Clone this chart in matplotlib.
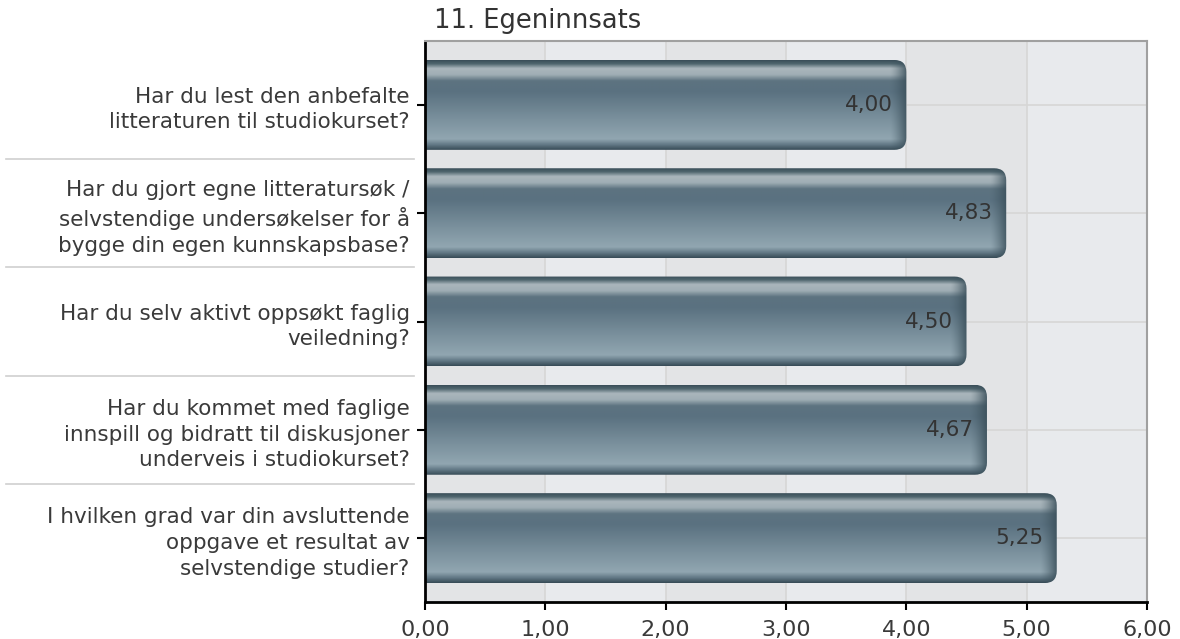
import numpy as np
import matplotlib
matplotlib.use("Agg")
import matplotlib.pyplot as plt
from matplotlib.patches import FancyBboxPatch
from matplotlib.colors import to_rgb

plt.rcParams['font.family'] = ['DejaVu Sans']

title = "11. Egeninnsats"
questions = [
    "Har du lest den anbefalte\nlitteraturen til studiokurset?",
    "Har du gjort egne litteratursøk /\nselvstendige undersøkelser for å\nbygge din egen kunnskapsbase?",
    "Har du selv aktivt oppsøkt faglig\nveiledning?",
    "Har du kommet med faglige\ninnspill og bidratt til diskusjoner\nunderveis i studiokurset?",
    "I hvilken grad var din avsluttende\noppgave et resultat av\nselvstendige studier?",
]
scores = [4.00, 4.83, 4.50, 4.67, 5.25]
xticks = [0, 1, 2, 3, 4, 5, 6]

fig = plt.figure(figsize=(11.8, 6.39), dpi=100)
ax = fig.add_axes([425 / 1180, 1 - 602 / 639, 722 / 1180, 561 / 639])

bar_h = 0.83
ax.set_xlim(0, 6)
ax.set_ylim(4.59, -0.59)

# alternating background bands
band_cols = ["#e3e4e6", "#e8eaed"]
for i in range(6):
    ax.axvspan(i, i + 1, color=band_cols[i % 2], zorder=0, lw=0)
for x in xticks[1:-1]:
    ax.axvline(x, color="#d6d6d6", lw=1.2, zorder=0.5)
for y in range(len(scores)):
    ax.axhline(y, color="#d6d6d6", lw=1.2, zorder=0.5)

# vertical colour profile of the bars (top -> bottom)
stops = [0.0, 0.04, 0.09, 0.16, 0.23, 0.35, 0.70, 0.88, 0.95, 1.0]
cols = ["#3a4e59", "#50666f", "#aab6bc", "#a0aeb5", "#5d7380", "#5a7180",
        "#7f95a1", "#91a6b1", "#5d7380", "#384c57"]
rgb = np.array([to_rgb(c) for c in cols])
prof_t = np.linspace(0, 1, 150)
profile = np.stack([np.interp(prof_t, stops, rgb[:, k]) for k in range(3)], axis=1)
edge = np.array(to_rgb("#3a4f5a"))

for i, v in enumerate(scores):
    xs = np.linspace(-0.2, v, 700)
    dark = np.clip((xs - (v - 0.14)) / 0.14, 0, 1) ** 1.4 * 0.85
    img = profile[:, None, :] * (1 - dark[None, :, None]) + edge[None, None, :] * dark[None, :, None]
    patch = FancyBboxPatch((-0.2, i - bar_h / 2), v + 0.2, bar_h,
                           boxstyle="round,pad=0,rounding_size=0.1",
                           mutation_aspect=1.11, fc="none", ec="none",
                           transform=ax.transData)
    ax.add_patch(patch)
    im = ax.imshow(img, extent=(-0.2, v, i + bar_h / 2, i - bar_h / 2),
                   origin="upper", aspect="auto", zorder=2, interpolation="bilinear")
    im.set_clip_path(patch)
    ax.text(v - 0.11, i, f"{v:.2f}".replace(".", ","), ha="right", va="center",
            fontsize=15.5, color="#333333", zorder=3)

ax.set_xlim(0, 6)
ax.set_ylim(4.59, -0.59)

ax.set_xticks(xticks)
ax.set_xticklabels([f"{x:.2f}".replace(".", ",") for x in xticks],
                   fontsize=16, color="#3a3a3a")
ax.set_yticks(range(len(questions)))
ax.set_yticklabels(questions, fontsize=15.5, color="#3a3a3a", linespacing=1.35)
ax.tick_params(axis="both", length=6, width=1.5, color="black", direction="out")
ax.tick_params(axis="y", pad=5)
ax.tick_params(axis="x", pad=7)

for s in ["left", "bottom"]:
    ax.spines[s].set_color("black")
    ax.spines[s].set_linewidth(2)
for s in ["top", "right"]:
    ax.spines[s].set_color("#a0a0a0")
    ax.spines[s].set_linewidth(1.5)

# separator lines in the label area
for y in [0.5, 1.5, 2.5, 3.5]:
    ax.plot([-0.58, -0.015], [y, y], transform=ax.get_yaxis_transform(),
            color="#cfcfcf", lw=1.2, clip_on=False)

fig.text(434 / 1180, 1 - 21 / 639, title, fontsize=18.5, color="#333333",
         ha="left", va="center")

fig.savefig("out.png", dpi=100)
